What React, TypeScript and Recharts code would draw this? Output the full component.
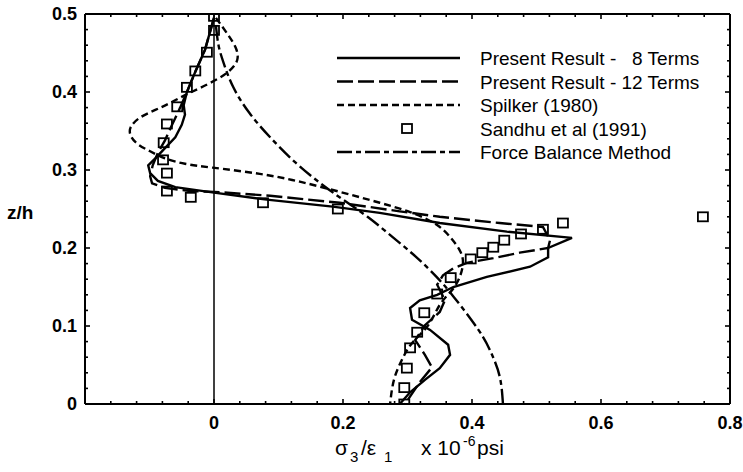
import React from "react";
import { ComposedChart, Line, Scatter, XAxis, YAxis, ReferenceLine, Legend, Label } from "recharts";

const FONT = "'Liberation Sans', Arial, Helvetica, sans-serif";

// stress profiles: sigma3/eps1 (x 10^-6 psi) against z/h
const eightTermSigma = [0, -0.014, -0.029, -0.042, -0.047, -0.045, -0.05, -0.06, -0.076, -0.091, -0.102, -0.099, -0.087, -0.06, 0, 0.082, 0.184, 0.257, 0.35, 0.454, 0.555, 0.518, 0.518, 0.49, 0.423, 0.371, 0.346, 0.319, 0.304, 0.307, 0.335, 0.363, 0.366, 0.35, 0.327, 0.304, 0.288];
const eightTermZ = [0.495, 0.454, 0.426, 0.4, 0.383, 0.371, 0.358, 0.342, 0.328, 0.315, 0.306, 0.296, 0.286, 0.278, 0.271, 0.262, 0.253, 0.245, 0.232, 0.221, 0.213, 0.2, 0.188, 0.176, 0.163, 0.15, 0.14, 0.133, 0.123, 0.108, 0.095, 0.076, 0.063, 0.046, 0.031, 0.015, 0];

const twelveTermSigma = [0, -0.014, -0.029, -0.042, -0.053, -0.065, -0.076, -0.087, -0.095, -0.099, -0.096, -0.076, -0.037, 0, 0.087, 0.195, 0.288, 0.35, 0.443, 0.51, 0.521, 0.518, 0.474, 0.433, 0.392, 0.371, 0.355, 0.346, 0.358, 0.35, 0.327, 0.312, 0.327, 0.338, 0.319, 0.296];
const twelveTermZ = [0.495, 0.454, 0.426, 0.4, 0.379, 0.358, 0.338, 0.322, 0.306, 0.292, 0.283, 0.277, 0.273, 0.272, 0.267, 0.258, 0.247, 0.24, 0.232, 0.227, 0.21, 0.2, 0.194, 0.187, 0.181, 0.174, 0.165, 0.153, 0.133, 0.118, 0.101, 0.082, 0.063, 0.047, 0.028, 0];

const spilkerSigma = [0.003, 0.022, 0.034, 0.036, 0.025, 0.006, -0.022, -0.045, -0.068, -0.091, -0.115, -0.129, -0.129, -0.118, -0.099, -0.076, -0.045, -0.002, 0.071, 0.133, 0.195, 0.257, 0.304, 0.343, 0.366, 0.381, 0.386, 0.381, 0.369, 0.35, 0.332, 0.307, 0.291, 0.279, 0.273];
const spilkerZ = [0.495, 0.473, 0.456, 0.441, 0.428, 0.417, 0.405, 0.396, 0.386, 0.377, 0.367, 0.355, 0.344, 0.333, 0.324, 0.315, 0.308, 0.303, 0.295, 0.285, 0.272, 0.258, 0.246, 0.231, 0.214, 0.197, 0.181, 0.163, 0.146, 0.127, 0.101, 0.078, 0.056, 0.031, 0];

const sandhuSigma = [0, 0, -0.011, -0.029, -0.042, -0.057, -0.073, -0.078, -0.079, -0.073, -0.073, -0.036, 0.076, 0.192, 0.541, 0.51, 0.476, 0.45, 0.433, 0.416, 0.398, 0.367, 0.346, 0.326, 0.315, 0.304, 0.299, 0.295, 0.295, 0.758];
const sandhuZ = [0.497, 0.479, 0.451, 0.427, 0.406, 0.381, 0.359, 0.335, 0.313, 0.296, 0.273, 0.265, 0.258, 0.25, 0.232, 0.224, 0.218, 0.21, 0.201, 0.194, 0.186, 0.162, 0.141, 0.117, 0.092, 0.072, 0.046, 0.021, 0, 0.24];

const forceBalanceSigma = [0.003, 0.007, 0.015, 0.03, 0.055, 0.087, 0.127, 0.165, 0.2, 0.238, 0.277, 0.314, 0.345, 0.372, 0.41, 0.43, 0.443, 0.448];
const forceBalanceZ = [0.485, 0.46, 0.437, 0.406, 0.373, 0.342, 0.309, 0.283, 0.262, 0.24, 0.214, 0.188, 0.163, 0.137, 0.095, 0.065, 0.035, 0];

const xDomain: [number, number] = [-0.2, 0.8];
const yDomain: [number, number] = [0, 0.5];
const xTickLabels = [0, 0.2, 0.4, 0.6, 0.8];
const yTickLabels = [0, 0.1, 0.2, 0.3, 0.4, 0.5];
const legendLabels = [
  "Present Result -   8 Terms",
  "Present Result - 12 Terms",
  "Spilker (1980)",
  "Sandhu et al (1991)",
  "Force Balance Method",
];

const zip = (xs: number[], zs: number[]) => xs.map((x, i) => ({ x, y: zs[i] }));
const eightTermData = zip(eightTermSigma, eightTermZ);
const twelveTermData = zip(twelveTermSigma, twelveTermZ);
const spilkerData = zip(spilkerSigma, spilkerZ);
const sandhuData = zip(sandhuSigma, sandhuZ);
const forceBalanceData = zip(forceBalanceSigma, forceBalanceZ);

// minor ticks every 0.04 on x and 0.02 on z
const xTicks = Array.from({ length: 26 }, (_, i) => +(-0.2 + i * 0.04).toFixed(2));
const yTicks = Array.from({ length: 26 }, (_, i) => +(i * 0.02).toFixed(2));

const near = (a: number, b: number) => Math.abs(a - b) < 1e-6;
const onStep = (v: number, step: number) => near(v / step, Math.round(v / step));
const fmt = (v: number) => (v === 0 ? "0" : String(v));

const PLOT = { left: 85, top: 14, right: 730, bottom: 404 };
const STROKE = 2.4;
const DASH = {
  twelve: "16 5",
  spilker: "7 4",
  force: "15 4 5 4",
};

function BottomTick({ x, y, payload }: any) {
  const v = payload.value;
  const len = onStep(v, 0.2) ? 5 : 3;
  const labelled = xTickLabels.some((t) => near(t, v));
  return (
    <g>
      <line x1={x} y1={y} x2={x} y2={y - len} stroke="#000" strokeWidth={1.6} />
      <line x1={x} y1={PLOT.top} x2={x} y2={PLOT.top + len} stroke="#000" strokeWidth={1.6} />
      {labelled && (
        <text x={x} y={y + 25} textAnchor="middle" fontFamily={FONT} fontWeight="bold" fontSize={18} fill="#000">
          {fmt(v)}
        </text>
      )}
    </g>
  );
}

function LeftTick({ x, y, payload }: any) {
  const v = payload.value;
  const len = onStep(v, 0.1) ? 5 : 3;
  const labelled = yTickLabels.some((t) => near(t, v));
  return (
    <g>
      <line x1={x} y1={y} x2={x + len} y2={y} stroke="#000" strokeWidth={1.6} />
      <line x1={PLOT.right} y1={y} x2={PLOT.right - len} y2={y} stroke="#000" strokeWidth={1.6} />
      {labelled && (
        <text x={x - 8} y={y + 6} textAnchor="end" fontFamily={FONT} fontWeight="bold" fontSize={18} fill="#000">
          {fmt(v)}
        </text>
      )}
    </g>
  );
}

function XAxisTitle() {
  return (
    <text y={455} fontFamily={FONT} fontSize={21} fill="#000">
      <tspan x={335}>σ</tspan>
      <tspan x={350} dy={7} fontSize={15}>3</tspan>
      <tspan x={361} dy={-7}>/ε</tspan>
      <tspan x={384} dy={7} fontSize={15}>1</tspan>
      <tspan x={421} dy={-7}>x 10</tspan>
      <tspan x={463} dy={-9} fontSize={14}>-6</tspan>
      <tspan x={477} dy={9}>psi</tspan>
    </text>
  );
}

function YAxisTitle() {
  return (
    <text x={7} y={219} fontFamily={FONT} fontWeight="bold" fontSize={19} fill="#000">
      z/h
    </text>
  );
}

function SquareMark({ cx, cy }: any) {
  if (cx == null || cy == null) return null;
  return <rect x={cx - 5} y={cy - 4.5} width={10} height={9} fill="none" stroke="#000" strokeWidth={1.8} />;
}

function LegendBox() {
  const x1 = 7;
  const x2 = 130;
  return (
    <svg width={410} height={125} style={{ display: "block" }}>
      {legendLabels.map((label, i) => {
        const cy = 13 + i * 23.5;
        let sample: React.ReactNode = null;
        if (i === 0) sample = <line x1={x1} y1={cy} x2={x2} y2={cy} stroke="#000" strokeWidth={STROKE} />;
        if (i === 1) sample = <line x1={x1} y1={cy} x2={x2} y2={cy} stroke="#000" strokeWidth={STROKE} strokeDasharray={DASH.twelve} />;
        if (i === 2) sample = <line x1={x1} y1={cy} x2={x2} y2={cy} stroke="#000" strokeWidth={STROKE} strokeDasharray={DASH.spilker} />;
        if (i === 3) sample = <SquareMark cx={77} cy={cy} />;
        if (i === 4) sample = <line x1={x1} y1={cy} x2={x2} y2={cy} stroke="#000" strokeWidth={STROKE} strokeDasharray={DASH.force} />;
        return (
          <g key={label}>
            {sample}
            <text x={150} y={cy + 7} fontFamily={FONT} fontSize={19} fill="#000" style={{ whiteSpace: "pre" }}>
              {label}
            </text>
          </g>
        );
      })}
    </svg>
  );
}

export default function App() {
  const axisLine = { stroke: "#000", strokeWidth: 2 };
  return (
    <div style={{ position: "absolute", left: 0, top: 0, width: 743, height: 472, background: "#fff" }}>
      <ComposedChart width={743} height={472} data={sandhuData} margin={{ top: 0, right: 0, bottom: 0, left: 0 }}>
        <XAxis
          type="number"
          dataKey="x"
          domain={xDomain}
          allowDataOverflow
          ticks={xTicks}
          interval={0}
          tickSize={0}
          tickMargin={0}
          tickLine={false}
          tick={<BottomTick />}
          axisLine={axisLine}
          height={472 - PLOT.bottom}
        >
          <Label content={<XAxisTitle />} />
        </XAxis>
        {/* top and right edges of the frame */}
        <XAxis
          xAxisId="top"
          orientation="top"
          type="number"
          dataKey="x"
          domain={xDomain}
          allowDataOverflow
          height={PLOT.top}
          tick={false}
          tickLine={false}
          axisLine={axisLine}
        />
        <YAxis
          type="number"
          dataKey="y"
          domain={yDomain}
          allowDataOverflow
          ticks={yTicks}
          interval={0}
          tickSize={0}
          tickMargin={0}
          tickLine={false}
          tick={<LeftTick />}
          axisLine={axisLine}
          width={PLOT.left}
        >
          <Label content={<YAxisTitle />} />
        </YAxis>
        <YAxis
          yAxisId="right"
          orientation="right"
          type="number"
          dataKey="y"
          domain={yDomain}
          allowDataOverflow
          width={743 - PLOT.right}
          tick={false}
          tickLine={false}
          axisLine={axisLine}
        />
        <ReferenceLine x={0} stroke="#000" strokeWidth={1.5} />
        <Line data={forceBalanceData} dataKey="y" type="natural" stroke="#000" strokeWidth={STROKE} strokeDasharray={DASH.force} dot={false} activeDot={false} isAnimationActive={false} />
        <Line data={spilkerData} dataKey="y" type="natural" stroke="#000" strokeWidth={STROKE} strokeDasharray={DASH.spilker} dot={false} activeDot={false} isAnimationActive={false} />
        <Line data={twelveTermData} dataKey="y" type="linear" stroke="#000" strokeWidth={STROKE} strokeDasharray={DASH.twelve} dot={false} activeDot={false} isAnimationActive={false} />
        <Line data={eightTermData} dataKey="y" type="linear" stroke="#000" strokeWidth={STROKE} dot={false} activeDot={false} isAnimationActive={false} />
        <Scatter dataKey="y" shape={<SquareMark />} isAnimationActive={false} />
        <Legend
          layout="horizontal"
          verticalAlign="middle"
          align="center"
          width={410}
          height={125}
          wrapperStyle={{ left: 330, top: 45, width: 410, height: 125 }}
          content={() => <LegendBox />}
        />
      </ComposedChart>
    </div>
  );
}
